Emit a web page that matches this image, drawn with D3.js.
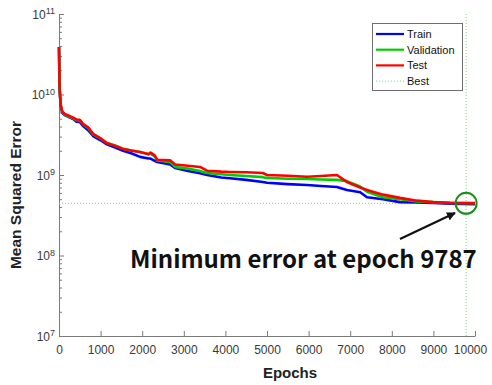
<!DOCTYPE html>
<html><head><meta charset="utf-8">
<script src="https://cdn.jsdelivr.net/npm/d3@7"></script>
<style>body{margin:0;background:#fff}svg{display:block}</style>
</head><body><svg id="c" width="492" height="385"></svg>
<script>
const epochs = [0,15,40,80,150,250,340,420,500,580,700,820,1000,1150,1350,1540,1750,1950,2150,2200,2300,2360,2670,2790,3100,3390,3560,3900,4110,4500,4900,5000,5500,5960,6300,6680,6920,7240,7404,7789,8197,8606,8990,9399,10000];
const trainMSE = [3.9e10,1.15e10,7.2e9,5.9e9,5.5e9,5.2e9,4.95e9,4.6e9,4.55e9,4.05e9,3.6e9,3.05e9,2.7e9,2.4e9,2.2e9,2.0e9,1.85e9,1.68e9,1.6e9,1.6e9,1.5e9,1.45e9,1.35e9,1.22e9,1.12e9,1.05e9,1.0e9,0.93e9,0.91e9,0.87e9,0.82e9,0.8e9,0.77e9,0.75e9,0.73e9,0.71e9,0.65e9,0.61e9,0.53e9,0.5e9,0.46e9,0.455e9,0.45e9,0.44e9,0.435e9];
const validMSE = [3.9e10,1.18e10,7.4e9,6.0e9,5.6e9,5.3e9,5.05e9,4.8e9,4.75e9,4.25e9,3.85e9,3.2e9,2.82e9,2.5e9,2.32e9,2.12e9,2.02e9,1.93e9,1.8e9,1.84e9,1.7e9,1.52e9,1.45e9,1.26e9,1.2e9,1.12e9,1.06e9,1.02e9,1.0e9,0.97e9,0.94e9,0.92e9,0.9e9,0.89e9,0.88e9,0.87e9,0.84e9,0.72e9,0.62e9,0.53e9,0.5e9,0.47e9,0.46e9,0.45e9,0.445e9];
const testMSE = [3.9e10,1.2e10,7.5e9,6.1e9,5.7e9,5.4e9,5.15e9,4.9e9,4.85e9,4.3e9,3.9e9,3.25e9,2.85e9,2.5e9,2.3e9,2.1e9,2.0e9,1.93e9,1.82e9,1.9e9,1.75e9,1.55e9,1.52e9,1.35e9,1.3e9,1.26e9,1.13e9,1.1e9,1.09e9,1.08e9,1.06e9,1.0e9,0.98e9,0.95e9,0.97e9,1.0e9,0.82e9,0.7e9,0.65e9,0.57e9,0.52e9,0.48e9,0.46e9,0.45e9,0.447e9];
const bestEpoch = 9787;
const bestMSE = 4.45e8;
const xTicks = [0,1000,2000,3000,4000,5000,6000,7000,8000,9000,10000];
const yExponents = [7,8,9,10,11];
const legendLabels = ["Train","Validation","Test","Best"];
const annotationText = "Minimum error at epoch 9787";

const svg = d3.select("#c");
const x = d3.scaleLinear().domain([0,10000]).range([59,475]);
const y = d3.scaleLog().domain([1e7,1e11]).range([336,14]);
const axisColor = "#7a7a7a";
const textColor = "#3a3a3a";

// minor y ticks
const minor = [];
for (let e = 7; e < 11; e++) for (let m = 2; m <= 9; m++) minor.push(m * Math.pow(10, e));
const gMinor = svg.append("g").attr("transform","translate(59,0)")
  .call(d3.axisLeft(y).tickValues(minor).tickSizeInner(-3).tickSizeOuter(0).tickFormat(""));
gMinor.select(".domain").remove();
gMinor.selectAll("line").attr("stroke",axisColor);

const gy = svg.append("g").attr("transform","translate(59,0)")
  .call(d3.axisLeft(y).tickValues(yExponents.map(e=>Math.pow(10,e))).tickSizeInner(-5).tickSizeOuter(0).tickPadding(5).tickFormat(()=>""));
gy.select(".domain").attr("stroke",axisColor);
gy.selectAll("line").attr("stroke",axisColor);
gy.selectAll(".tick text").remove();
gy.selectAll(".tick").data(yExponents).append("text")
  .attr("x",-4).attr("dy","0.35em").attr("text-anchor","end")
  .attr("fill",textColor).style("font-family","Liberation Sans, Arial, sans-serif").style("font-size","12px")
  .each(function(e){
    const t = d3.select(this);
    t.append("tspan").text("10");
    t.append("tspan").attr("dy","-0.5em").style("font-size","9px").text(e);
  });

const gx = svg.append("g").attr("transform","translate(0,336)")
  .call(d3.axisBottom(x).tickValues(xTicks).tickSizeInner(-5).tickSizeOuter(0).tickPadding(9).tickFormat(d3.format("d")));
gx.select(".domain").attr("stroke",axisColor);
gx.selectAll("line").attr("stroke",axisColor);
gx.selectAll("text").attr("fill",textColor).style("font-family","Liberation Sans, Arial, sans-serif").style("font-size","12px");
gx.selectAll(".tick text").filter(d=>d===10000).attr("dx",-5);

// best lines
const bestColor = "#7ccf7c";
svg.append("line").attr("x1",x(0)).attr("x2",x(10000)).attr("y1",y(bestMSE)).attr("y2",y(bestMSE))
  .attr("stroke",bestColor).attr("stroke-width",1).attr("stroke-dasharray","1,2");
svg.append("line").attr("x1",x(bestEpoch)).attr("x2",x(bestEpoch)).attr("y1",y(1e11)).attr("y2",y(1e7))
  .attr("stroke",bestColor).attr("stroke-width",1).attr("stroke-dasharray","1,2");

const line = d3.line().x((d,i)=>x(epochs[i])).y(d=>y(d));
const series = [[trainMSE,"#0000ff"],[validMSE,"#00cc00"],[testMSE,"#ff0000"]];
series.forEach(([vals,col])=>{
  svg.append("path").datum(vals).attr("d",line).attr("fill","none")
    .attr("stroke",col).attr("stroke-width",2.6).attr("stroke-linejoin","round");
});

// circle
svg.append("circle").attr("cx",x(bestEpoch)).attr("cy",y(bestMSE)).attr("r",10.5)
  .attr("fill","none").attr("stroke","#1a8c1a").attr("stroke-width",2);

// legend
const lg = svg.append("g");
lg.append("rect").attr("x",372.5).attr("y",23.5).attr("width",90).attr("height",67)
  .attr("fill","#fff").attr("stroke","#6e6e6e").attr("stroke-width",1);
const legendColors = ["#0000ff","#00cc00","#ff0000",bestColor];
legendLabels.forEach((lab,i)=>{
  const yy = 34 + i*15.7;
  const l = lg.append("line").attr("x1",376).attr("x2",404).attr("y1",yy).attr("y2",yy)
    .attr("stroke",legendColors[i]).attr("stroke-width", i<3 ? 2.2 : 1);
  if (i===3) l.attr("stroke-dasharray","1,2");
  lg.append("text").attr("x",407).attr("y",yy).attr("dy","0.35em").text(lab)
    .attr("fill","#111").style("font-family","Liberation Sans, Arial, sans-serif").style("font-size","11px");
});

// arrow
svg.append("defs").append("marker").attr("id","ah").attr("viewBox","0 0 10 10")
  .attr("refX",9).attr("refY",5).attr("markerWidth",4).attr("markerHeight",4).attr("orient","auto")
  .append("path").attr("d","M0,0L10,5L0,10Z").attr("fill","#111");
svg.append("line").attr("x1",400).attr("y1",239).attr("x2",455).attr("y2",213)
  .attr("stroke","#111").attr("stroke-width",2.2).attr("marker-end","url(#ah)");

svg.append("text").attr("x",130).attr("y",268).text(annotationText)
  .attr("fill","#111").style("font-family","Noto Sans CJK KR, Noto Sans, sans-serif").style("font-weight","bold").style("font-size","24px");

// axis labels
svg.append("text").attr("transform","translate(21,195) rotate(-90)").attr("text-anchor","middle")
  .text("Mean Squared Error").attr("fill","#222")
  .style("font-family","Liberation Sans, Arial, sans-serif").style("font-weight","bold").style("font-size","15.5px");
svg.append("text").attr("x",290).attr("y",378).attr("text-anchor","middle")
  .text("Epochs").attr("fill","#222")
  .style("font-family","Liberation Sans, Arial, sans-serif").style("font-weight","bold").style("font-size","15px");
</script></body></html>
